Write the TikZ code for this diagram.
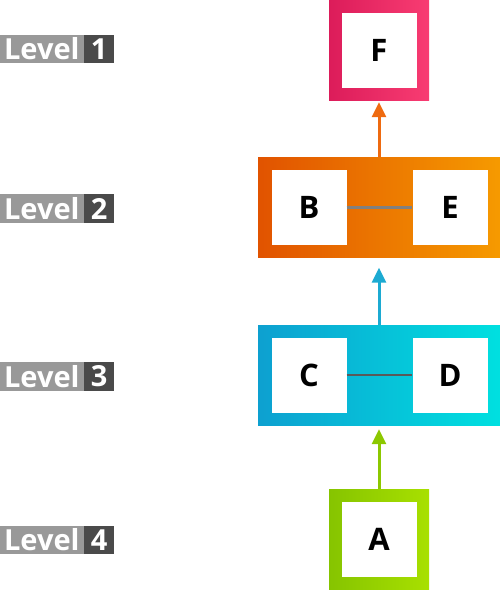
\documentclass[tikz,border=0pt]{standalone}
\usepackage{fontspec}
\setmainfont{Open Sans}
\usetikzlibrary{arrows.meta}
\definecolor{lvlgray}{HTML}{999999}
\definecolor{lvldark}{HTML}{4A4A4A}
\definecolor{pinkL}{HTML}{DC1C5A}
\definecolor{pinkR}{HTML}{F83C72}
\definecolor{orgL}{HTML}{E15300}
\definecolor{orgR}{HTML}{F69A00}
\definecolor{cyanL}{HTML}{0DA0D0}
\definecolor{cyanR}{HTML}{00E0E0}
\definecolor{grnL}{HTML}{86C400}
\definecolor{grnR}{HTML}{A8E000}
\definecolor{arrOrg}{HTML}{EE6A10}
\definecolor{arrCyan}{HTML}{1CAAD2}
\definecolor{arrGrn}{HTML}{8CC800}
\tikzset{
  lvlword/.style={fill=lvlgray, text=white, font=\bfseries\fontsize{29}{29}\selectfont,
    minimum width=84pt, minimum height=28.5pt, inner sep=0pt, anchor=east},
  lvlnum/.style={fill=lvldark, text=white, font=\bfseries\fontsize{29}{29}\selectfont,
    minimum width=30pt, minimum height=28.5pt, inner sep=0pt, anchor=west},
  outerbox/.style={minimum width=100pt, minimum height=100pt, inner sep=0pt},
  groupbox/.style={minimum width=242pt, minimum height=100pt, inner sep=0pt},
  whitebox/.style={fill=white, minimum width=75pt, minimum height=75pt, inner sep=0pt,
    font=\bfseries\fontsize{31}{31}\selectfont},
  uparrow/.style={line width=3pt, -{Triangle[length=15pt,width=14pt]}},
}
\begin{document}
\begin{tikzpicture}[x=1pt,y=-1pt]
\useasboundingbox (0,0) rectangle (500,590);
% level labels
\node[lvlword] (lw1) at (84,49) {Level};
\node[lvlnum] (ln1) at (84,49) {1};
\node[lvlword] (lw2) at (84,208.5) {Level};
\node[lvlnum] (ln2) at (84,208.5) {2};
\node[lvlword] (lw3) at (84,376.5) {Level};
\node[lvlnum] (ln3) at (84,376.5) {3};
\node[lvlword] (lw4) at (84,540) {Level};
\node[lvlnum] (ln4) at (84,540) {4};
% level 1
\node[outerbox, left color=pinkL, right color=pinkR] (Fout) at (379,50) {};
\node[whitebox] (F) at (379,50) {F};
% level 2
\node[groupbox, left color=orgL, right color=orgR] (BE) at (379,207.5) {};
\node[whitebox] (B) at (309,207.5) {B};
\node[whitebox] (E) at (450,207.5) {E};
\draw[line width=2.5pt, color=black!50] (B) -- (E);
% level 3
\node[groupbox, left color=cyanL, right color=cyanR] (CD) at (379,375) {};
\node[whitebox] (C) at (309,375) {C};
\node[whitebox] (D) at (450,375) {D};
\draw[line width=2.5pt, color=black!65] (C) -- (D);
% level 4
\node[outerbox, left color=grnL, right color=grnR] (Aout) at (379,539) {};
\node[whitebox] (A) at (379,539) {A};
% arrows
\draw[uparrow, arrOrg, shorten >=2pt] (BE.north) -- (Fout.south);
\draw[uparrow, arrCyan, shorten >=10pt] (CD.north) -- (BE.south);
\draw[uparrow, arrGrn, shorten >=4pt] (Aout.north) -- (CD.south);
\end{tikzpicture}
\end{document}
